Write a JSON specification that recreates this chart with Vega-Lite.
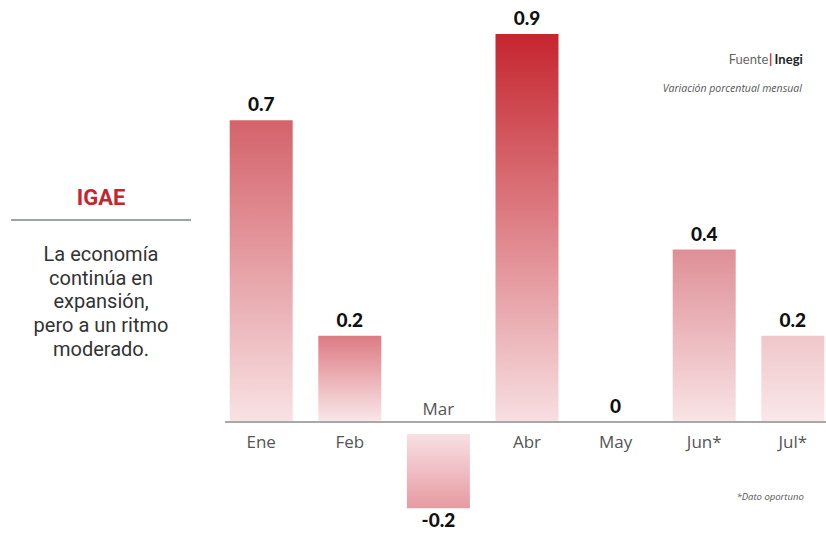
{
  "$schema": "https://vega.github.io/schema/vega-lite/v6.json",
  "autosize": {"type": "pad"},
  "padding": {"left": 10, "top": 0, "right": 0, "bottom": 0},
  "background": "white",
  "spacing": 32,
  "config": {"view": {"stroke": null}},
  "datasets": {
    "igae": [
      {"mes": "Ene", "var": 0.7},
      {"mes": "Feb", "var": 0.2},
      {"mes": "Mar", "var": -0.2},
      {"mes": "Abr", "var": 0.9},
      {"mes": "May", "var": 0},
      {"mes": "Jun*", "var": 0.4},
      {"mes": "Jul*", "var": 0.2}
    ]
  },
  "hconcat": [
    {
      "width": 180,
      "height": 539,
      "data": {"values": [{"titulo": "IGAE", "texto": "La economía|continúa en|expansión,|pero a un ritmo|moderado."}]},
      "layer": [
        {
          "mark": {"type": "text", "font": "Roboto", "fontSize": 22, "fontWeight": "bold", "color": "#c4262e", "baseline": "middle"},
          "encoding": {
            "text": {"field": "titulo"},
            "y": {"datum": 0.52, "type": "quantitative", "scale": {"domain": [-0.2715, 0.979], "nice": false, "zero": false}, "axis": null}
          }
        },
        {
          "mark": {"type": "rule", "color": "#9aa6a6", "strokeWidth": 2},
          "encoding": {"y": {"datum": 0.4687, "type": "quantitative"}}
        },
        {
          "transform": [{"calculate": "split(datum.texto, '|')", "as": "lineas"}],
          "mark": {"type": "text", "font": "Roboto", "fontSize": 20, "color": "#333333", "baseline": "middle", "lineHeight": 23.75},
          "encoding": {
            "text": {"field": "lineas"},
            "y": {"datum": 0.3875, "type": "quantitative"}
          }
        }
      ]
    },
    {
      "width": 604,
      "height": 539,
      "data": {"name": "igae"},
      "transform": [{"calculate": "toString(datum['var'])", "as": "etiqueta"}],
      "layer": [
        {
          "transform": [{"filter": "datum['var'] > 0"}],
          "mark": {"type": "bar"},
          "encoding": {
            "x": {"field": "mes", "type": "nominal", "sort": ["Ene", "Feb", "Mar", "Abr", "May", "Jun*", "Jul*"], "axis": null,
                  "scale": {"domain": ["Ene", "Feb", "Mar", "Abr", "May", "Jun*", "Jul*"], "paddingInner": 0.289, "paddingOuter": 0.053, "align": 0.5}},
            "y": {"field": "var", "type": "quantitative", "axis": null,
                  "scale": {"domain": [-0.2715, 0.979], "nice": false, "zero": false}},
            "y2": {"datum": 0},
            "color": {
              "condition": [
                {"test": "datum.mes === 'Ene'", "value": {"gradient": "linear", "x1": 0, "y1": 0, "x2": 0, "y2": 1, "stops": [{"offset": 0, "color": "#d4626a"}, {"offset": 1, "color": "#f8e2e4"}]}},
                {"test": "datum.mes === 'Feb'", "value": {"gradient": "linear", "x1": 0, "y1": 0, "x2": 0, "y2": 1, "stops": [{"offset": 0, "color": "#dd7b83"}, {"offset": 1, "color": "#f9e8ea"}]}},
                {"test": "datum.mes === 'Abr'", "value": {"gradient": "linear", "x1": 0, "y1": 0, "x2": 0, "y2": 1, "stops": [{"offset": 0, "color": "#c5252e"}, {"offset": 1, "color": "#f7dfe2"}]}},
                {"test": "datum.mes === 'Jun*'", "value": {"gradient": "linear", "x1": 0, "y1": 0, "x2": 0, "y2": 1, "stops": [{"offset": 0, "color": "#de8f96"}, {"offset": 1, "color": "#f9e4e6"}]}}
              ],
              "value": {"gradient": "linear", "x1": 0, "y1": 0, "x2": 0, "y2": 1, "stops": [{"offset": 0, "color": "#f0c6ca"}, {"offset": 1, "color": "#f9e8ea"}]}
            }
          }
        },
        {
          "transform": [{"filter": "datum['var'] < 0"}],
          "mark": {"type": "bar", "color": {"gradient": "linear", "x1": 0, "y1": 0, "x2": 0, "y2": 1, "stops": [{"offset": 0, "color": "#f8e0e3"}, {"offset": 1, "color": "#e79aa1"}]}},
          "encoding": {
            "x": {"field": "mes", "type": "nominal", "sort": ["Ene", "Feb", "Mar", "Abr", "May", "Jun*", "Jul*"]},
            "y": {"field": "var", "type": "quantitative"},
            "y2": {"datum": -0.028}
          }
        },
        {
          "mark": {"type": "rule", "color": "#a8a8a8", "strokeWidth": 1.5},
          "encoding": {"y": {"datum": 0, "type": "quantitative"}}
        },
        {
          "transform": [{"filter": "datum['var'] >= 0"}],
          "mark": {"type": "text", "font": "Open Sans", "fontSize": 17, "color": "#555555", "baseline": "middle", "dy": 21},
          "encoding": {"x": {"field": "mes", "type": "nominal", "sort": ["Ene", "Feb", "Mar", "Abr", "May", "Jun*", "Jul*"]}, "text": {"field": "mes"}, "y": {"datum": 0, "type": "quantitative"}}
        },
        {
          "transform": [{"filter": "datum['var'] < 0"}],
          "mark": {"type": "text", "font": "Open Sans", "fontSize": 17, "color": "#555555", "baseline": "middle", "dy": -12},
          "encoding": {"x": {"field": "mes", "type": "nominal", "sort": ["Ene", "Feb", "Mar", "Abr", "May", "Jun*", "Jul*"]}, "text": {"field": "mes"}, "y": {"datum": 0, "type": "quantitative"}}
        },
        {
          "transform": [{"filter": "datum['var'] >= 0"}],
          "mark": {"type": "text", "font": "Lato", "fontSize": 19, "fontWeight": 900, "color": "#111111", "baseline": "middle", "dy": -15},
          "encoding": {"x": {"field": "mes", "type": "nominal", "sort": ["Ene", "Feb", "Mar", "Abr", "May", "Jun*", "Jul*"]}, "text": {"field": "etiqueta"}, "y": {"field": "var", "type": "quantitative"}}
        },
        {
          "transform": [{"filter": "datum['var'] < 0"}],
          "mark": {"type": "text", "font": "Lato", "fontSize": 19, "fontWeight": 900, "color": "#111111", "baseline": "middle", "dy": 13},
          "encoding": {"x": {"field": "mes", "type": "nominal", "sort": ["Ene", "Feb", "Mar", "Abr", "May", "Jun*", "Jul*"]}, "text": {"field": "etiqueta"}, "y": {"field": "var", "type": "quantitative"}}
        },
        {
          "data": {"values": [{"t": "Fuente"}]},
          "mark": {"type": "text", "font": "Lato", "fontSize": 13, "color": "#666666", "align": "right", "baseline": "middle", "dx": -24.5},
          "encoding": {"x": {"datum": "Jul*"}, "y": {"datum": 0.84, "type": "quantitative"}, "text": {"field": "t"}}
        },
        {
          "data": {"values": [{"t": "|"}]},
          "mark": {"type": "text", "font": "Lato", "fontSize": 13, "fontWeight": "bold", "color": "#c4262e", "align": "center", "baseline": "middle", "dx": -22},
          "encoding": {"x": {"datum": "Jul*"}, "y": {"datum": 0.84, "type": "quantitative"}, "text": {"field": "t"}}
        },
        {
          "data": {"values": [{"t": "Inegi"}]},
          "mark": {"type": "text", "font": "Lato", "fontSize": 13, "fontWeight": "bold", "color": "#222222", "align": "right", "baseline": "middle", "dx": 10},
          "encoding": {"x": {"datum": "Jul*"}, "y": {"datum": 0.84, "type": "quantitative"}, "text": {"field": "t"}}
        },
        {
          "data": {"values": [{"t": "Variación porcentual mensual"}]},
          "mark": {"type": "text", "font": "Open Sans", "fontSize": 10.5, "fontStyle": "italic", "color": "#555555", "align": "right", "baseline": "middle", "dx": 9},
          "encoding": {"x": {"datum": "Jul*"}, "y": {"datum": 0.772, "type": "quantitative"}, "text": {"field": "t"}}
        },
        {
          "data": {"values": [{"t": "*Dato oportuno"}]},
          "mark": {"type": "text", "font": "Open Sans", "fontSize": 9.5, "fontStyle": "italic", "color": "#555555", "align": "right", "baseline": "middle", "dx": 11},
          "encoding": {"x": {"datum": "Jul*"}, "y": {"datum": -0.174, "type": "quantitative"}, "text": {"field": "t"}}
        }
      ]
    }
  ]
}
